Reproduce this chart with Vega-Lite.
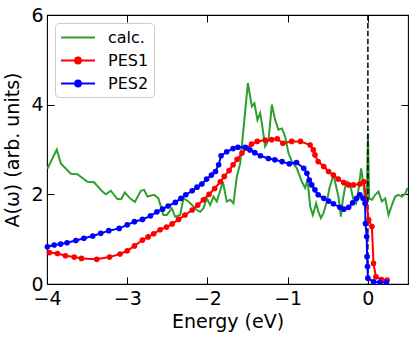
{
  "$schema": "https://vega.github.io/schema/vega-lite/v6.json",
  "width": 361,
  "height": 269,
  "autosize": "none",
  "padding": {"left": 47, "top": 15, "right": 7, "bottom": 54},
  "config": {
    "view": {"stroke": "#000", "strokeWidth": 1.1},
    "axis": {
      "grid": false, "domain": false, "tickColor": "#000", "tickSize": -7, "tickWidth": 1,
      "labelFont": "DejaVu Sans", "labelFontSize": 19, "labelColor": "#000",
      "titleFont": "DejaVu Sans", "titleFontSize": 19, "titleFontWeight": "normal", "titleColor": "#000",
      "labelFlush": false, "labelOverlap": false
    }
  },
  "resolve": {"axis": {"x": "independent", "y": "independent"}},
  "datasets": {
    "calc": [
      {"s":"calc.","E":-3.995,"A":2.57},{"s":"calc.","E":-3.878,"A":3.00},{"s":"calc.","E":-3.828,"A":2.69},{"s":"calc.","E":-3.703,"A":2.46},
      {"s":"calc.","E":-3.621,"A":2.45},{"s":"calc.","E":-3.496,"A":2.28},{"s":"calc.","E":-3.413,"A":2.27},{"s":"calc.","E":-3.309,"A":2.06},
      {"s":"calc.","E":-3.267,"A":2.00},{"s":"calc.","E":-3.204,"A":2.08},{"s":"calc.","E":-3.122,"A":1.89},{"s":"calc.","E":-3.072,"A":1.90},
      {"s":"calc.","E":-3.030,"A":2.04},{"s":"calc.","E":-2.964,"A":1.91},{"s":"calc.","E":-2.905,"A":1.83},{"s":"calc.","E":-2.830,"A":2.08},
      {"s":"calc.","E":-2.789,"A":2.10},{"s":"calc.","E":-2.748,"A":1.95},{"s":"calc.","E":-2.665,"A":1.99},{"s":"calc.","E":-2.611,"A":1.91},
      {"s":"calc.","E":-2.549,"A":1.54},{"s":"calc.","E":-2.506,"A":1.54},{"s":"calc.","E":-2.444,"A":1.69},{"s":"calc.","E":-2.403,"A":1.50},
      {"s":"calc.","E":-2.340,"A":1.54},{"s":"calc.","E":-2.299,"A":1.91},{"s":"calc.","E":-2.237,"A":1.84},{"s":"calc.","E":-2.132,"A":1.65},
      {"s":"calc.","E":-2.091,"A":1.61},{"s":"calc.","E":-2.050,"A":1.69},{"s":"calc.","E":-2.007,"A":1.91},{"s":"calc.","E":-1.966,"A":1.76},
      {"s":"calc.","E":-1.925,"A":1.95},{"s":"calc.","E":-1.883,"A":1.84},{"s":"calc.","E":-1.808,"A":2.28},{"s":"calc.","E":-1.758,"A":1.84},
      {"s":"calc.","E":-1.717,"A":1.88},{"s":"calc.","E":-1.676,"A":1.80},{"s":"calc.","E":-1.633,"A":2.40},{"s":"calc.","E":-1.592,"A":2.69},
      {"s":"calc.","E":-1.496,"A":4.48},{"s":"calc.","E":-1.446,"A":3.96},{"s":"calc.","E":-1.414,"A":4.03},{"s":"calc.","E":-1.377,"A":3.66},
      {"s":"calc.","E":-1.343,"A":3.81},{"s":"calc.","E":-1.322,"A":3.59},{"s":"calc.","E":-1.281,"A":3.07},{"s":"calc.","E":-1.239,"A":3.21},
      {"s":"calc.","E":-1.197,"A":4.00},{"s":"calc.","E":-1.156,"A":3.66},{"s":"calc.","E":-1.115,"A":3.44},{"s":"calc.","E":-1.072,"A":3.47},
      {"s":"calc.","E":-1.031,"A":3.29},{"s":"calc.","E":-0.990,"A":2.92},{"s":"calc.","E":-0.948,"A":2.73},{"s":"calc.","E":-0.885,"A":2.58},
      {"s":"calc.","E":-0.823,"A":2.28},{"s":"calc.","E":-0.782,"A":2.14},{"s":"calc.","E":-0.753,"A":2.32},{"s":"calc.","E":-0.719,"A":1.73},
      {"s":"calc.","E":-0.686,"A":1.54},{"s":"calc.","E":-0.645,"A":1.80},{"s":"calc.","E":-0.616,"A":1.61},{"s":"calc.","E":-0.586,"A":1.47},
      {"s":"calc.","E":-0.554,"A":1.58},{"s":"calc.","E":-0.511,"A":1.84},{"s":"calc.","E":-0.479,"A":2.14},{"s":"calc.","E":-0.449,"A":2.32},
      {"s":"calc.","E":-0.429,"A":2.43},{"s":"calc.","E":-0.395,"A":2.17},{"s":"calc.","E":-0.367,"A":1.95},{"s":"calc.","E":-0.337,"A":1.50},
      {"s":"calc.","E":-0.312,"A":1.88},{"s":"calc.","E":-0.283,"A":2.17},{"s":"calc.","E":-0.254,"A":2.28},{"s":"calc.","E":-0.221,"A":2.21},
      {"s":"calc.","E":-0.180,"A":1.88},{"s":"calc.","E":-0.146,"A":1.80},{"s":"calc.","E":-0.117,"A":2.10},{"s":"calc.","E":-0.084,"A":2.58},
      {"s":"calc.","E":-0.055,"A":2.21},{"s":"calc.","E":-0.034,"A":1.88},{"s":"calc.","E":-0.015,"A":1.80},{"s":"calc.","E":0.0,"A":3.35},
      {"s":"calc.","E":0.016,"A":1.90},{"s":"calc.","E":0.050,"A":1.88},{"s":"calc.","E":0.091,"A":1.99},{"s":"calc.","E":0.132,"A":2.06},
      {"s":"calc.","E":0.175,"A":1.84},{"s":"calc.","E":0.216,"A":1.91},{"s":"calc.","E":0.257,"A":1.54},{"s":"calc.","E":0.299,"A":1.76},
      {"s":"calc.","E":0.340,"A":1.95},{"s":"calc.","E":0.382,"A":1.99},{"s":"calc.","E":0.424,"A":1.95},{"s":"calc.","E":0.465,"A":2.01},
      {"s":"calc.","E":0.494,"A":2.14}
    ],
    "pes": [
      {"s":"PES1","E":-3.97,"A":0.70},{"s":"PES1","E":-3.87,"A":0.68},{"s":"PES1","E":-3.77,"A":0.63},{"s":"PES1","E":-3.66,"A":0.60},
      {"s":"PES1","E":-3.57,"A":0.57},{"s":"PES1","E":-3.38,"A":0.55},{"s":"PES1","E":-3.22,"A":0.60},{"s":"PES1","E":-3.09,"A":0.67},
      {"s":"PES1","E":-3.00,"A":0.74},{"s":"PES1","E":-2.91,"A":0.85},{"s":"PES1","E":-2.81,"A":0.98},{"s":"PES1","E":-2.74,"A":1.05},
      {"s":"PES1","E":-2.67,"A":1.12},{"s":"PES1","E":-2.59,"A":1.21},{"s":"PES1","E":-2.51,"A":1.27},{"s":"PES1","E":-2.44,"A":1.34},
      {"s":"PES1","E":-2.36,"A":1.44},{"s":"PES1","E":-2.28,"A":1.54},{"s":"PES1","E":-2.19,"A":1.65},{"s":"PES1","E":-2.12,"A":1.76},
      {"s":"PES1","E":-2.05,"A":1.88},{"s":"PES1","E":-1.98,"A":2.00},{"s":"PES1","E":-1.91,"A":2.13},{"s":"PES1","E":-1.84,"A":2.28},
      {"s":"PES1","E":-1.79,"A":2.40},{"s":"PES1","E":-1.73,"A":2.53},{"s":"PES1","E":-1.68,"A":2.66},{"s":"PES1","E":-1.63,"A":2.78},
      {"s":"PES1","E":-1.57,"A":2.92},{"s":"PES1","E":-1.51,"A":3.03},{"s":"PES1","E":-1.45,"A":3.12},{"s":"PES1","E":-1.38,"A":3.18},
      {"s":"PES1","E":-1.28,"A":3.21},{"s":"PES1","E":-1.20,"A":3.22},{"s":"PES1","E":-1.13,"A":3.24},{"s":"PES1","E":-1.06,"A":3.14},
      {"s":"PES1","E":-0.95,"A":3.18},{"s":"PES1","E":-0.84,"A":3.18},{"s":"PES1","E":-0.72,"A":3.10},{"s":"PES1","E":-0.68,"A":2.99},
      {"s":"PES1","E":-0.66,"A":2.88},{"s":"PES1","E":-0.62,"A":2.73},{"s":"PES1","E":-0.55,"A":2.62},{"s":"PES1","E":-0.49,"A":2.51},
      {"s":"PES1","E":-0.43,"A":2.43},{"s":"PES1","E":-0.37,"A":2.34},{"s":"PES1","E":-0.30,"A":2.26},{"s":"PES1","E":-0.24,"A":2.21},
      {"s":"PES1","E":-0.18,"A":2.21},{"s":"PES1","E":-0.10,"A":2.23},{"s":"PES1","E":-0.05,"A":2.28},{"s":"PES1","E":0.01,"A":1.43},
      {"s":"PES1","E":0.05,"A":1.28},{"s":"PES1","E":0.07,"A":0.46},{"s":"PES1","E":0.10,"A":0.16},{"s":"PES1","E":0.17,"A":0.10},
      {"s":"PES1","E":0.24,"A":0.09},
      {"s":"PES2","E":-3.995,"A":0.83},{"s":"PES2","E":-3.91,"A":0.87},{"s":"PES2","E":-3.83,"A":0.89},{"s":"PES2","E":-3.75,"A":0.92},
      {"s":"PES2","E":-3.64,"A":0.97},{"s":"PES2","E":-3.54,"A":1.02},{"s":"PES2","E":-3.43,"A":1.07},{"s":"PES2","E":-3.33,"A":1.13},
      {"s":"PES2","E":-3.23,"A":1.19},{"s":"PES2","E":-3.10,"A":1.24},{"s":"PES2","E":-3.00,"A":1.32},{"s":"PES2","E":-2.91,"A":1.39},
      {"s":"PES2","E":-2.81,"A":1.44},{"s":"PES2","E":-2.71,"A":1.52},{"s":"PES2","E":-2.63,"A":1.61},{"s":"PES2","E":-2.56,"A":1.67},
      {"s":"PES2","E":-2.49,"A":1.74},{"s":"PES2","E":-2.40,"A":1.82},{"s":"PES2","E":-2.33,"A":1.91},{"s":"PES2","E":-2.27,"A":1.99},
      {"s":"PES2","E":-2.19,"A":2.08},{"s":"PES2","E":-2.13,"A":2.16},{"s":"PES2","E":-2.07,"A":2.23},{"s":"PES2","E":-2.01,"A":2.34},
      {"s":"PES2","E":-1.95,"A":2.43},{"s":"PES2","E":-1.90,"A":2.51},{"s":"PES2","E":-1.86,"A":2.66},{"s":"PES2","E":-1.83,"A":2.86},
      {"s":"PES2","E":-1.76,"A":2.95},{"s":"PES2","E":-1.68,"A":3.02},{"s":"PES2","E":-1.62,"A":3.05},{"s":"PES2","E":-1.53,"A":3.05},
      {"s":"PES2","E":-1.47,"A":2.99},{"s":"PES2","E":-1.41,"A":2.93},{"s":"PES2","E":-1.34,"A":2.86},{"s":"PES2","E":-1.24,"A":2.80},
      {"s":"PES2","E":-1.16,"A":2.77},{"s":"PES2","E":-1.07,"A":2.73},{"s":"PES2","E":-0.98,"A":2.68},{"s":"PES2","E":-0.89,"A":2.71},
      {"s":"PES2","E":-0.80,"A":2.58},{"s":"PES2","E":-0.76,"A":2.47},{"s":"PES2","E":-0.73,"A":2.32},{"s":"PES2","E":-0.70,"A":2.21},
      {"s":"PES2","E":-0.66,"A":2.10},{"s":"PES2","E":-0.62,"A":1.99},{"s":"PES2","E":-0.55,"A":1.91},{"s":"PES2","E":-0.49,"A":1.85},
      {"s":"PES2","E":-0.43,"A":1.79},{"s":"PES2","E":-0.35,"A":1.71},{"s":"PES2","E":-0.30,"A":1.67},{"s":"PES2","E":-0.24,"A":1.71},
      {"s":"PES2","E":-0.19,"A":1.81},{"s":"PES2","E":-0.14,"A":1.91},{"s":"PES2","E":-0.10,"A":1.99},{"s":"PES2","E":-0.06,"A":1.91},
      {"s":"PES2","E":-0.035,"A":1.80},{"s":"PES2","E":-0.03,"A":1.35},{"s":"PES2","E":-0.015,"A":1.06},{"s":"PES2","E":-0.01,"A":0.61},
      {"s":"PES2","E":-0.005,"A":0.39},{"s":"PES2","E":0.0,"A":0.13},{"s":"PES2","E":0.07,"A":0.05},{"s":"PES2","E":0.15,"A":0.04},
      {"s":"PES2","E":0.23,"A":0.04}
    ],
    "zero": [{"E": 0}]
  },
  "layer": [
    {
      "data": {"name": "calc"},
      "mark": {"type": "line", "strokeWidth": 2, "clip": true},
      "encoding": {
        "x": {"field": "E", "type": "quantitative", "scale": {"domain": [-4, 0.5], "nice": false, "zero": false},
              "axis": {"orient": "bottom", "values": [-4, -3, -2, -1, 0], "title": "Energy (eV)", "labelPadding": 12, "titlePadding": 4}},
        "y": {"field": "A", "type": "quantitative", "scale": {"domain": [0, 6], "nice": false},
              "axis": {"orient": "left", "values": [0, 2, 4, 6], "title": "A(ω) (arb. units)", "labelPadding": 11, "titlePadding": 8}},
        "color": {"field": "s", "type": "nominal",
          "scale": {"domain": ["calc.", "PES1", "PES2"], "range": ["#2ca02c", "#ff0000", "#0000ff"]},
          "legend": {
            "orient": "top-left", "offset": 8, "title": null,
            "labelFont": "DejaVu Sans", "labelFontSize": 16, "labelColor": "#000", "labelOffset": 29,
            "symbolSize": 289, "symbolStrokeWidth": 2, "symbolType": "M-2,0L2,0",
            "strokeColor": "#cccccc", "fillColor": "rgba(255,255,255,0.8)", "cornerRadius": 4, "padding": 5, "rowPadding": 5,
            "encode": {"symbols": {"update": {
              "shape": {"signal": "datum.value === 'calc.' ? 'M-2,0L2,0' : 'M-2,0L2,0M0.34,0A0.34,0.34,0,1,1,-0.34,0A0.34,0.34,0,1,1,0.34,0Z'"},
              "x": {"value": 18},
              "fill": {"scale": "color", "field": "value"},
              "fillOpacity": {"value": 1},
              "stroke": {"scale": "color", "field": "value"}
            }}}
          }
        }
      }
    },
    {
      "data": {"name": "zero"},
      "mark": {"type": "rule", "color": "#000", "strokeWidth": 1.5, "strokeDash": [5.5, 2.4]},
      "encoding": {"x": {"field": "E", "type": "quantitative", "axis": null}}
    },
    {
      "data": {"name": "pes"},
      "mark": {"type": "line", "strokeWidth": 2},
      "encoding": {
        "x": {"field": "E", "type": "quantitative", "axis": null},
        "y": {"field": "A", "type": "quantitative", "axis": null},
        "color": {"field": "s", "type": "nominal"}
      }
    },
    {
      "data": {"name": "pes"},
      "mark": {"type": "point", "filled": true, "opacity": 1, "size": 32},
      "encoding": {
        "x": {"field": "E", "type": "quantitative",
              "axis": {"orient": "top", "values": [-4, -3, -2, -1, 0], "labels": false, "title": null}},
        "y": {"field": "A", "type": "quantitative",
              "axis": {"orient": "right", "values": [0, 2, 4, 6], "labels": false, "title": null}},
        "color": {"field": "s", "type": "nominal"}
      }
    }
  ]
}
